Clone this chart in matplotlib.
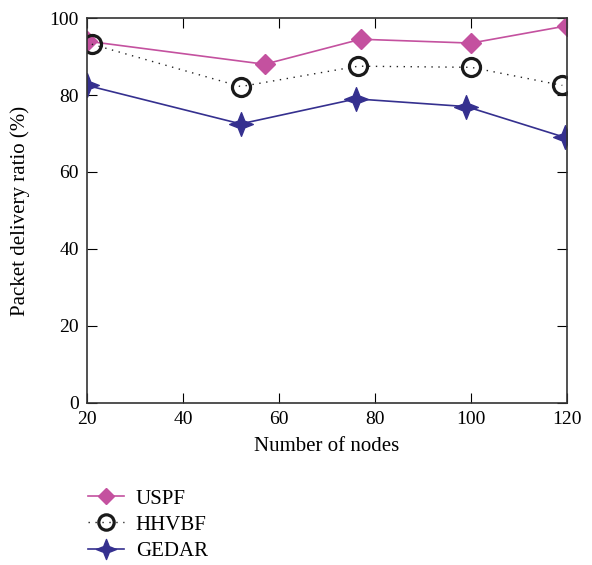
import matplotlib
matplotlib.use("Agg")
import matplotlib.pyplot as plt
from matplotlib.path import Path
import numpy as np

# Data
uspf_x = [20, 57, 77, 100, 120]
uspf_y = [94, 88, 94.5, 93.5, 98]
hhvbf_x = [21, 52, 76.5, 100, 119]
hhvbf_y = [93.2, 82.2, 87.5, 87.2, 82.5]
gedar_x = [20, 52, 76, 99, 119.5]
gedar_y = [82.5, 72.5, 79, 77, 69]
xticks = [20, 40, 60, 80, 100, 120]
yticks = [0, 20, 40, 60, 80, 100]

plt.rcParams['font.family'] = ['Liberation Serif', 'DejaVu Serif']

# four-pointed star marker with concave sides
ang = np.linspace(0, 2 * np.pi, 9)[:-1] + np.pi / 2
rad = np.array([1.0, 0.4] * 4)
star = Path(np.column_stack([rad * np.cos(ang), rad * np.sin(ang)]).tolist() + [[0, 1]],
            [Path.MOVETO] + [Path.LINETO] * 7 + [Path.CLOSEPOLY])

fig = plt.figure(figsize=(5.92, 5.65), dpi=100)
ax = fig.add_axes([0.147, 0.287, 0.811, 0.681])

l1, = ax.plot(uspf_x, uspf_y, color='#C4519F', linewidth=1.2, marker='D',
              markersize=10, markerfacecolor='#C4519F', markeredgecolor='#C4519F', label='USPF')
l2, = ax.plot(hhvbf_x, hhvbf_y, color='#222222', linewidth=1.0, linestyle=(0, (1, 4)),
              marker='o', markersize=13, markerfacecolor='none', markeredgecolor='#1a1a1a',
              markeredgewidth=2.3, label='HHVBF')
l3, = ax.plot(gedar_x, gedar_y, color='#35308F', linewidth=1.2, marker=star,
              markersize=17, markerfacecolor='#35308F', markeredgecolor='#35308F', label='GEDAR')

ax.set_xlim(20, 120)
ax.set_ylim(0, 100)
ax.set_xticks(xticks)
ax.set_yticks(yticks)
ax.tick_params(direction='in', top=True, right=True, length=7, labelsize=14, pad=6)
ax.set_xlabel('Number of nodes', fontsize=15, labelpad=6)
ax.set_ylabel('Packet delivery ratio (%)', fontsize=15, labelpad=14)
for s in ax.spines.values():
    s.set_linewidth(1.2)
    s.set_color('#333333')

fig.legend(handles=[l1, l2, l3], loc='upper left', bbox_to_anchor=(0.135, 0.149),
           borderaxespad=0, frameon=False, fontsize=15, handlelength=1.7,
           handletextpad=0.58, labelspacing=0.31, markerscale=0.85)

fig.savefig('out.png', dpi=100)
